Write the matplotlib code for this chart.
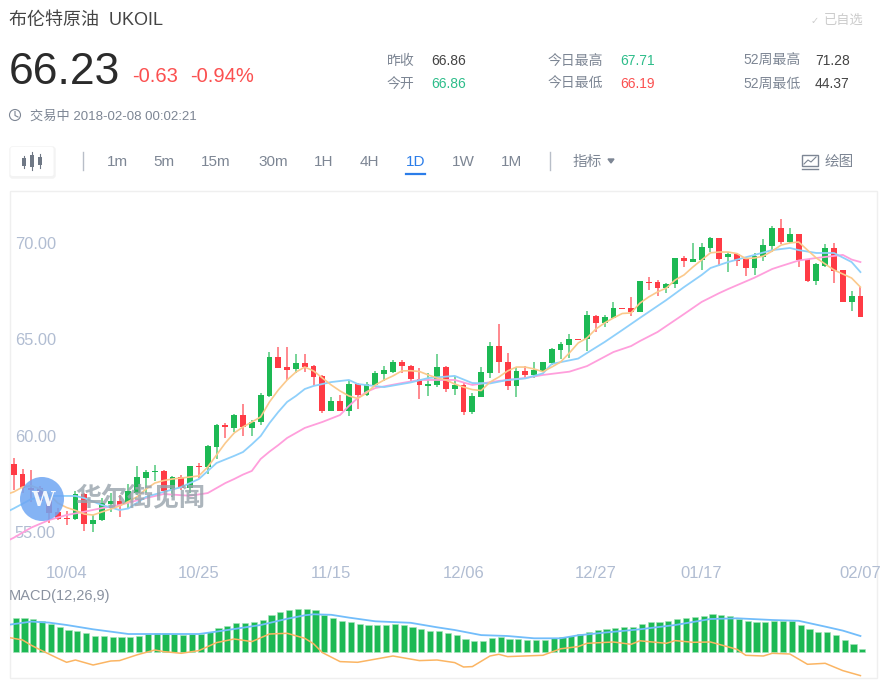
import matplotlib

matplotlib.use("Agg")
import matplotlib.pyplot as plt
from matplotlib.patches import Circle, FancyBboxPatch, Rectangle

plt.rcParams["font.family"] = ["Liberation Sans", "Noto Sans CJK SC", "DejaVu Sans"]

W, H = 880, 680

# daily candles
opens = [
    58.51, 57.99, 57.27, 57.27, 56.66, 56.02, 55.71, 55.66, 56.97, 55.43,
    55.61, 56.44, 56.59, 56.49, 57.04, 57.82, 58.10, 58.17, 57.16, 57.85,
    57.27, 58.44, 58.36, 59.43, 60.55, 60.40, 61.07, 60.41, 60.69, 62.07,
    64.07, 63.55, 63.44, 63.79, 63.63, 63.10, 61.29, 61.81, 61.28, 62.68,
    62.09, 62.63, 63.21, 63.30, 63.84, 63.63, 62.96, 62.56, 62.63, 63.58,
    62.41, 62.63, 61.21, 61.99, 63.27, 64.67, 63.82, 62.56, 63.37, 63.16,
    63.34, 63.75, 64.44, 64.70, 65.02, 65.00, 66.23, 65.83, 66.12, 66.62,
    66.64, 66.42, 67.97, 67.96, 67.66, 67.87, 69.22, 69.03, 69.12, 69.72,
    70.24, 69.27, 69.43, 69.15, 68.70, 69.29, 69.84, 70.76, 70.05, 70.45,
    69.15, 68.01, 68.80, 69.72, 68.58, 66.94, 67.26,
]
closes = [
    57.94, 57.27, 57.19, 56.62, 56.00, 55.66, 55.66, 56.96, 55.43, 55.62,
    56.49, 56.61, 56.36, 57.13, 57.85, 58.10, 58.17, 57.13, 57.85, 57.27,
    58.44, 58.36, 59.48, 60.55, 60.45, 61.07, 60.43, 60.72, 62.11, 64.07,
    63.50, 63.42, 63.79, 63.58, 63.03, 61.29, 61.81, 61.29, 62.70, 62.09,
    62.68, 63.27, 63.39, 63.84, 63.61, 62.92, 62.64, 62.68, 63.58, 62.41,
    62.61, 61.21, 62.06, 63.29, 64.67, 63.81, 62.56, 63.37, 63.16, 63.41,
    63.84, 64.51, 64.74, 65.02, 64.98, 66.25, 65.86, 66.17, 66.64, 66.59,
    66.43, 68.01, 67.91, 67.66, 67.89, 69.20, 69.05, 69.15, 69.79, 70.24,
    69.15, 69.43, 69.06, 68.70, 69.32, 69.88, 70.76, 70.07, 70.45, 69.12,
    68.01, 68.92, 69.72, 68.56, 66.94, 67.25, 66.17,
]
highs = [
    58.82, 58.25, 58.22, 57.40, 56.83, 56.26, 56.10, 57.14, 57.02, 55.88,
    56.75, 57.04, 56.92, 57.49, 58.42, 58.22, 58.48, 58.23, 57.91, 57.96,
    58.44, 58.60, 59.51, 60.59, 60.64, 61.11, 61.63, 60.81, 62.23, 64.36,
    64.62, 64.62, 64.22, 64.22, 63.67, 63.15, 62.02, 62.09, 62.89, 62.75,
    62.77, 63.37, 63.61, 63.93, 63.93, 63.67, 63.53, 63.27, 64.24, 63.61,
    63.10, 62.72, 62.20, 63.58, 64.86, 65.79, 64.27, 63.55, 63.61, 63.84,
    63.84, 64.56, 64.84, 65.26, 65.02, 66.48, 66.26, 66.26, 66.95, 66.62,
    67.21, 68.04, 68.22, 68.08, 67.92, 69.20, 69.32, 69.98, 69.98, 70.29,
    70.24, 69.55, 69.49, 69.29, 69.46, 70.21, 70.90, 71.24, 70.76, 70.47,
    69.15, 68.94, 69.95, 69.98, 68.60, 67.52, 67.70,
]
lows = [
    57.18, 57.01, 56.57, 56.36, 55.45, 55.62, 55.35, 55.62, 55.07, 55.00,
    55.57, 56.05, 55.79, 56.23, 56.92, 57.01, 57.66, 56.92, 56.83, 57.18,
    57.01, 57.82, 58.01, 58.79, 59.86, 60.20, 59.98, 59.98, 60.55, 62.02,
    63.50, 62.89, 63.24, 63.32, 62.58, 61.16, 61.28, 61.28, 61.04, 61.40,
    62.06, 62.58, 62.84, 63.27, 63.24, 62.75, 61.89, 62.06, 62.54, 62.28,
    62.11, 61.06, 61.12, 61.99, 62.98, 63.24, 62.37, 61.99, 62.99, 62.99,
    63.30, 63.67, 63.98, 64.05, 64.98, 64.41, 65.39, 65.65, 66.09, 66.59,
    66.21, 66.40, 67.56, 67.25, 67.42, 67.65, 68.74, 69.00, 68.60, 69.55,
    68.80, 68.49, 68.80, 68.29, 68.32, 69.08, 69.55, 69.93, 69.98, 68.74,
    67.99, 67.82, 68.77, 67.94, 66.94, 66.48, 66.16,
]

# moving averages, read at the candle numbers given
ma_fast_idx = [-1] + list(range(0, 20)) + list(range(21, 97))
ma_fast = [
    56.92, 57.08, 57.33, 57.40, 57.23, 56.97, 56.50, 56.27, 56.12, 55.93, 55.88,
    56.04, 56.19, 56.35, 56.58, 56.83, 57.23, 57.54, 57.67, 57.75, 57.80,
    57.91, 58.37, 59.00, 59.62, 60.14, 60.45, 60.71, 60.97, 61.75,
    62.37, 62.89, 63.30, 63.56, 63.36, 62.99, 62.63, 62.32, 62.06, 61.93,
    62.21, 62.63, 62.89, 63.10, 63.36, 63.37, 63.33, 63.15, 62.99, 62.89,
    62.68, 62.52, 62.39, 62.34, 62.78, 63.04, 63.36, 63.56, 63.56, 63.46,
    63.32, 63.56, 63.82, 64.29, 64.81, 65.07, 65.53, 65.85, 66.11, 66.34,
    66.37, 66.88, 67.20, 67.46, 67.66, 68.08, 68.34, 68.75, 69.12, 69.49,
    69.53, 69.53, 69.45, 69.19, 69.22, 69.32, 69.58, 69.89, 70.00, 70.05,
    69.63, 69.22, 68.91, 68.60, 68.39, 68.18, 67.71,
]
ma_mid_idx = [
    -1, 0, 2, 4, 7, 8, 10, 12, 13, 15, 17, 19, 21, 23, 25, 26, 27, 28, 29, 30,
    31, 32, 33, 34, 36, 38, 39, 42, 45, 47, 50, 52, 54, 56, 58, 60, 61, 64, 65,
    67, 69, 71, 74, 76, 78, 79, 81, 84, 86, 88, 89, 91, 93, 95, 96,
]
ma_mid = [
    55.99, 56.22, 56.71, 56.87, 56.87, 56.76, 56.40, 56.14, 56.22, 56.82, 57.08,
    57.33, 57.75, 58.58, 58.95, 59.15, 59.55, 59.98, 60.65, 61.23,
    61.75, 62.06, 62.42, 62.58, 62.78, 62.89, 62.68, 62.52, 62.76, 62.99,
    63.10, 62.73, 62.71, 62.89, 62.97, 63.23, 63.72, 64.00, 64.29,
    64.86, 65.48, 66.11, 67.04, 67.71, 68.34, 68.70, 69.01, 69.38, 69.63,
    69.74, 69.63, 69.48, 69.48, 69.01, 68.49,
]
ma_slow_idx = [
    -1, 0, 2, 4, 6, 8, 10, 12, 15, 17, 20, 22, 24, 25, 26, 27, 28, 29, 30, 31,
    32, 33, 35, 37, 38, 39, 40, 41, 44, 46, 50, 52, 55, 58, 60, 63, 65, 68, 70,
    71, 73, 75, 76, 78, 80, 81, 84, 86, 87, 89, 91, 94, 95, 96,
]
ma_slow = [
    54.48, 54.70, 55.23, 55.62, 55.88, 56.05, 56.24, 56.40, 56.76, 56.97, 56.88,
    57.02, 57.54, 57.75, 57.98, 58.17, 58.79, 59.17, 59.51, 59.88,
    60.14, 60.40, 60.71, 61.07, 61.54, 61.95, 62.27, 62.47, 62.73, 62.89,
    62.89, 62.63, 62.84, 62.99, 63.15, 63.32, 63.61, 64.34, 64.65,
    64.91, 65.38, 66.00, 66.31, 66.94, 67.40, 67.61, 68.20, 68.65, 68.80,
    69.09, 69.22, 69.38, 69.14, 69.01,
]

# MACD panel, arbitrary units
macd_hist = [
    34.0, 34.0, 33.0, 31.3, 28.0, 25.0, 22.3, 21.7, 19.0, 16.7,
    16.0, 15.7, 15.0, 15.3, 16.7, 18.3, 19.7, 19.0, 18.7, 17.7,
    18.3, 18.3, 20.7, 24.3, 26.7, 29.0, 29.7, 30.0, 32.7, 37.7,
    40.3, 42.0, 43.3, 43.7, 42.3, 37.7, 34.7, 31.3, 30.0, 28.3,
    27.3, 27.0, 27.3, 28.0, 27.3, 25.7, 23.3, 21.3, 21.3, 19.0,
    17.0, 13.0, 11.0, 11.7, 14.7, 15.3, 13.3, 13.0, 12.3, 12.0,
    12.3, 14.0, 15.0, 16.7, 18.0, 20.7, 22.0, 23.0, 24.7, 25.0,
    25.7, 28.0, 30.0, 30.3, 31.0, 33.0, 34.3, 35.0, 36.7, 38.0,
    37.0, 36.3, 33.7, 31.7, 30.7, 30.3, 31.7, 31.3, 31.0, 27.7,
    23.0, 20.7, 20.0, 17.7, 12.0, 8.7, 3.7,
]
dif_idx = [
    -1, 2, 4, 6, 9, 12, 13, 15, 21, 23, 25, 28, 31, 33, 34, 36, 38, 41, 45, 48,
    50, 53, 56, 59, 62, 64, 67, 71, 75, 79, 82, 86, 89, 92, 94, 96,
]
dif = [
    27.0, 30.7, 29.7, 27.3, 23.0, 19.5, 18.3, 18.3, 18.3, 20.7, 23.3, 27.3,
    33.5, 37.0, 38.0, 37.5, 34.7, 31.0, 29.5, 25.0,
    22.3, 17.2, 16.3, 14.0, 14.0, 17.0, 19.7, 23.0, 27.3, 33.3, 34.0, 32.3,
    31.5, 25.7, 21.7, 16.3,
]
dea_idx = [
    -1, 1, 2, 3, 5, 6, 7, 9, 11, 12, 14, 16, 17, 19, 21, 23, 25, 27, 29, 31, 33,
    34, 35, 37, 39, 43, 46, 48, 50, 51, 52, 54, 55, 56, 60, 62, 64, 65, 68, 70,
    71, 74, 75, 77, 79, 82, 83, 85, 86, 88, 90, 92, 94, 96,
]
dea = [
    15.5, 12.3, 7.0, 2.5, -6.0, -10.0, -7.7, -12.7, -8.7, -8.3, -2.5, 2.3, 0.7,
    -1.0, 1.7, 9.7, 13.3, 10.7, 18.3, 19.0, 14.0,
    8.5, -0.3, -9.3, -10.0, -3.7, -8.3, -7.7, -10.3, -14.7, -14.3, -3.7, -2.0,
    -4.3, -3.0, 3.5, 5.7, 9.0, 10.3, 8.0,
    11.5, 9.0, 11.7, 10.0, 10.3, 3.0, -3.0, -3.7, -1.0, -1.7, -12.0, -11.0,
    -18.3, -23.3,
]

date_idx = [6, 21, 36, 51, 66, 78, 96]
date_labels = ["10/04", "10/25", "11/15", "12/06", "12/27", "01/17", "02/07"]
price_ticks = [55, 60, 65, 70]

RED = "#ff3b45"
TXT_RED = "#fb5050"
GREEN = "#1db954"
GREY = "#7d8694"
AXIS_TXT = "#b1bdd2"


def px_box(x0, y0, x1, y1):
    return [x0 / W, 1 - y1 / H, (x1 - x0) / W, (y1 - y0) / H]


fig = plt.figure(figsize=(8.8, 6.8), dpi=100, facecolor="white")

# page furniture, drawn in pixel coordinates
page = fig.add_axes([0, 0, 1, 1])
page.set_xlim(0, W)
page.set_ylim(H, 0)
page.axis("off")


def txt(x, y, s, size=10, color=GREY, **kw):
    # the CJK fallback pushes the centre up a little
    kw.setdefault("va", "center")
    page.text(x, y + 2, s, fontsize=size, color=color, **kw)


txt(9, 18, "布伦特原油  UKOIL", size=13, color="#444444")
txt(811, 19, "✓", size=7, color="#cccccc", family="DejaVu Sans")
txt(824, 19, "已自选", size=9.5, color="#cccccc")
txt(9, 70, "66.23", size=32, color="#2b2b2b")
txt(132, 75, "-0.63", size=14.5, color=TXT_RED)
txt(190, 75, "-0.94%", size=14.5, color=TXT_RED)

txt(387, 59, "昨收")
txt(431, 59, "66.86", color="#444444")
txt(387, 82, "今开")
txt(431, 82, "66.86", color="#2dbd8a")
txt(548, 59, "今日最高")
txt(620, 59, "67.71", color="#2dbd8a")
txt(548, 82, "今日最低")
txt(620, 82, "66.19", color=TXT_RED)
txt(743, 59, "52周最高")
txt(815, 59, "71.28", color="#444444")
txt(743, 82, "52周最低")
txt(815, 82, "44.37", color="#444444")

page.add_patch(Circle((15, 115), 5.5, fill=False, ec=GREY, lw=0.8))
page.plot([15, 15, 18], [111.5, 115.5, 117], color=GREY, lw=0.8)
txt(30, 115, "交易中 2018-02-08 00:02:21", size=9.5)

# toolbar
page.add_patch(FancyBboxPatch((11, 148), 43, 29, boxstyle="round,pad=0,rounding_size=2",
                              fc="#f3f3f3", ec="#f3f3f3", lw=2.5))
page.add_patch(FancyBboxPatch((10.5, 147), 43, 29, boxstyle="round,pad=0,rounding_size=2",
                              fc="white", ec="none"))
page.plot([24, 24], [156, 168], color="#6f7885", lw=0.8)
page.add_patch(Rectangle((22, 158), 4, 8, fc="#6f7885", ec="none"))
page.plot([32, 32], [152, 170], color="#6f7885", lw=0.8)
page.add_patch(Rectangle((30, 155), 4, 12, fc="#6f7885", ec="none"))
page.plot([40, 40], [154, 168], color="#6f7885", lw=0.8)
page.add_patch(Rectangle((38, 157), 4, 8, fc="#6f7885", ec="none"))
page.plot([83, 83], [152, 170], color="#b8bec8", lw=1)
page.plot([550, 550], [152, 170], color="#b8bec8", lw=1)
for x_pos, label in [(107, "1m"), (153, "5m"), (201, "15m"), (258, "30m"), (314, "1H"),
                     (360, "4H"), (452, "1W"), (501, "1M")]:
    txt(x_pos, 160, label, size=11)
txt(406, 160, "1D", size=11, color="#2b7de9")
page.plot([406, 425], [174, 174], color="#2b7de9", lw=1.6)
txt(573, 160, "指标", size=10.5)
page.fill([608, 614, 611], [159, 159, 163], color=GREY)
page.add_patch(Rectangle((802, 155), 16, 11, fill=False, ec=GREY, lw=1))
page.plot([804, 808, 811, 816], [164, 160, 162, 157], color=GREY, lw=0.8)
page.plot([802, 818], [169, 169], color=GREY, lw=1)
txt(825, 160, "绘图", size=10.5)

# panel outline
page.add_patch(Rectangle((10, 190.5), 867, 487, fill=False, ec="#efefef", lw=1))

# candles
x_left = (10 - 13.7) / 8.82
x_right = (877 - 13.7) / 8.82
ax = fig.add_axes(px_box(10, 191, 877, 580))
ax.patch.set_alpha(0)
ax.set_xlim(x_left, x_right)
ax.set_ylim(82.61 - 0.0519 * 580, 82.61 - 0.0519 * 191)
for s in ax.spines.values():
    s.set_visible(False)

idx = list(range(len(opens)))
colors = [RED if c < o else GREEN for o, c in zip(opens, closes)]
ax.vlines(idx, lows, highs, colors=colors, linewidth=1.2, alpha=0.7, zorder=2)
ax.bar(idx, [abs(c - o) for o, c in zip(opens, closes)],
       bottom=[min(o, c) for o, c in zip(opens, closes)],
       width=0.66, color=colors, zorder=3)
ax.plot(ma_slow_idx, ma_slow, color="#ff9fdc", lw=1.3, zorder=4)
ax.plot(ma_mid_idx, ma_mid, color="#8fd0fb", lw=1.3, zorder=4)
ax.plot(ma_fast_idx, ma_fast, color="#fbc98c", lw=1.2, zorder=4)

ax.set_yticks(price_ticks, [f"{p:.2f}" for p in price_ticks])
ax.set_xticks(date_idx, date_labels)
ax.tick_params(axis="y", length=0, pad=-3.5, labelsize=11.8, labelcolor=AXIS_TXT, direction="in")
ax.tick_params(axis="x", length=0, pad=-10, labelsize=12, labelcolor=AXIS_TXT)
for lab in ax.get_yticklabels():
    lab.set_ha("left")

# watermark sits above the candles
mark = fig.add_axes([0, 0, 1, 1])
mark.patch.set_alpha(0)
mark.set_xlim(0, W)
mark.set_ylim(H, 0)
mark.axis("off")
mark.add_patch(Circle((42, 499), 22, fc="#6ea6f3", ec="none", alpha=0.85))
mark.text(43, 500, "W", fontsize=15, color="white", weight="bold", ha="center", va="center",
          family="DejaVu Serif", alpha=0.9)
mark.text(75, 499, "华尔街见闻", fontsize=18.7, color="#98a3ac", weight="bold", va="center",
          family=["Noto Sans CJK SC"], alpha=0.8)

# MACD
ax2 = fig.add_axes(px_box(10, 580, 877, 677))
ax2.patch.set_alpha(0)
ax2.set_xlim(x_left, x_right)
ax2.set_ylim(652.3 - 677, 652.3 - 580)
ax2.axis("off")
ax2.bar([i + 0.22 for i in idx], macd_hist, width=0.7, color="#1db954", ec="#a5e4bc", lw=0.4)
ax2.plot(dif_idx, dif, color="#72bdfb", lw=1.3)
ax2.plot(dea_idx, dea, color="#fbb563", lw=1.1)
txt(9, 594, "MACD(12,26,9)", size=10.5, color="#8a92a0")

fig.savefig("out.png", dpi=100)
